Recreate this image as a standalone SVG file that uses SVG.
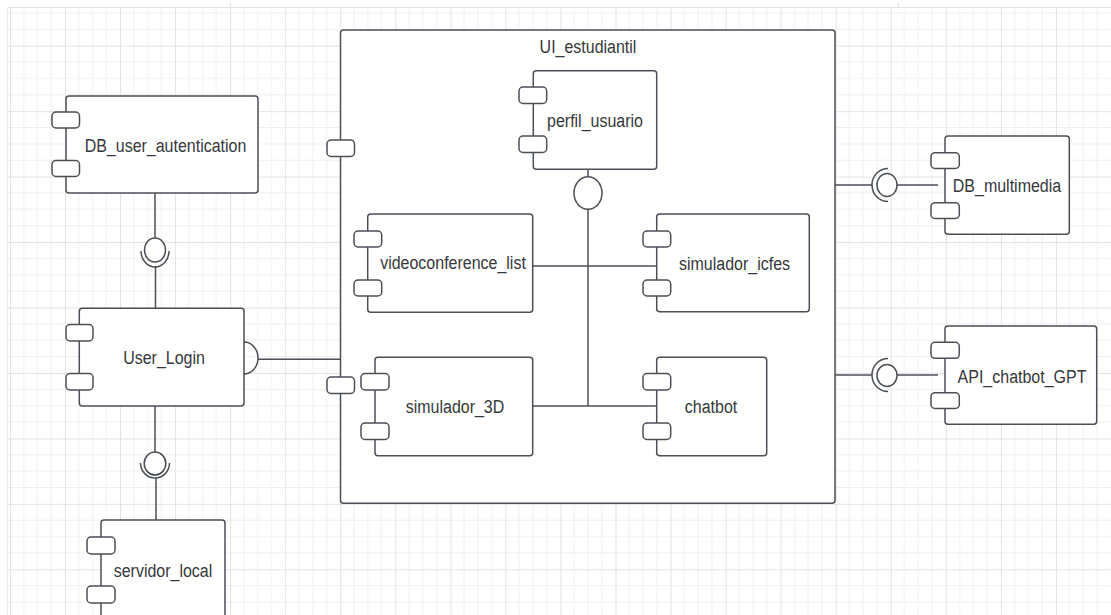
<svg xmlns="http://www.w3.org/2000/svg" width="1111" height="615" viewBox="0 0 1111 615">
<style>
.box{fill:#ffffff;stroke:#4b4f57;stroke-width:1.5}
.port{fill:#ffffff;stroke:#4b4f57;stroke-width:1.5}
.ln{fill:none;stroke:#4b4f57;stroke-width:1.5}
.ball{fill:#ffffff;stroke:#4b4f57;stroke-width:1.5}
.lbl{font-family:"Liberation Sans",Arial,sans-serif;font-size:16px;fill:#36383c;text-anchor:middle}
</style>
<defs>
<pattern id="grid" patternUnits="userSpaceOnUse" x="9.95" y="-19.75" width="55.05" height="65.45">
<g stroke="#efefef" stroke-width="1">
<line x1="13.76" y1="0" x2="13.76" y2="65.45"/>
<line x1="27.52" y1="0" x2="27.52" y2="65.45"/>
<line x1="41.29" y1="0" x2="41.29" y2="65.45"/>
<line x1="0" y1="16.36" x2="55.05" y2="16.36"/>
<line x1="0" y1="32.72" x2="55.05" y2="32.72"/>
<line x1="0" y1="49.09" x2="55.05" y2="49.09"/>
</g>
<g stroke="#e2e2e2" stroke-width="1">
<line x1="0.5" y1="0" x2="0.5" y2="65.45"/>
<line x1="0" y1="0.5" x2="55.05" y2="0.5"/>
</g>
</pattern>
</defs>
<rect x="0" y="0" width="1111" height="615" fill="#ffffff"/>
<rect x="7" y="7" width="1104" height="608" fill="url(#grid)"/>
<line x1="7" y1="7.5" x2="1111" y2="7.5" stroke="#e2e2e2" stroke-width="1"/>
<line x1="7.5" y1="7" x2="7.5" y2="615" stroke="#ececec" stroke-width="1"/>
<line x1="230.5" y1="3" x2="230.5" y2="7" stroke="#dcdcdc" stroke-width="1"/>
<line x1="898.5" y1="3" x2="898.5" y2="7" stroke="#dcdcdc" stroke-width="1"/>

<g id="UI_estudiantil">
<rect class="box" x="340.5" y="30" width="494.5" height="473.3" rx="3"/>
<rect class="port" x="327" y="140" width="27.5" height="16.5" rx="4"/>
<rect class="port" x="327" y="377" width="27.5" height="16.5" rx="4"/>
<text class="lbl" transform="matrix(1,0,0,1.1,588,53)">UI_estudiantil</text>
</g>

<g id="connectors">
<line class="ln" x1="155" y1="193" x2="155" y2="238"/>
<ellipse class="ball" cx="155" cy="250" rx="10.5" ry="12"/>
<path class="ln" d="M141,251 A14,16 0 0 0 169,251"/>
<line class="ln" x1="155.5" y1="266" x2="155.5" y2="308"/>
<line class="ln" x1="155" y1="406" x2="155" y2="452"/>
<ellipse class="ball" cx="155" cy="463.5" rx="10.8" ry="11.5"/>
<path class="ln" d="M140.5,463 A14.5,15 0 0 0 169.5,463"/>
<line class="ln" x1="156" y1="478" x2="156" y2="520"/>
<path class="ln" d="M244,342 A14,16 0 0 1 244,374"/>
<line class="ln" x1="258" y1="359.3" x2="340.5" y2="359.3"/>
<line class="ln" x1="588" y1="169.3" x2="588" y2="177"/>
<ellipse class="ball" cx="588" cy="193" rx="14" ry="16.3"/>
<line class="ln" x1="588" y1="209.3" x2="588" y2="406"/>
<line class="ln" x1="533" y1="266" x2="656.7" y2="266"/>
<line class="ln" x1="533" y1="406" x2="656.7" y2="406"/>
<line class="ln" x1="835" y1="185" x2="872" y2="185"/>
<path class="ln" d="M888,168.5 A16,16.5 0 0 0 888,201.5"/>
<ellipse class="ball" cx="887" cy="185" rx="10" ry="11.5"/>
<line class="ln" x1="897" y1="185" x2="938" y2="185"/>
<line class="ln" x1="835" y1="375" x2="872" y2="375"/>
<path class="ln" d="M888,358.5 A16,16.5 0 0 0 888,391.5"/>
<ellipse class="ball" cx="887" cy="375.5" rx="10" ry="11"/>
<line class="ln" x1="897" y1="375" x2="938" y2="375"/>
</g>

<g id="DB_user_autentication">
<rect class="box" x="66" y="96" width="192" height="97" rx="3"/>
<rect class="port" x="52" y="112" width="27.5" height="16" rx="4"/>
<rect class="port" x="52" y="160.5" width="27.5" height="16" rx="4"/>
<text class="lbl" transform="matrix(1,0,0,1.1,165.5,152)">DB_user_autentication</text>
</g>

<g id="User_Login">
<rect class="box" x="79.3" y="308.3" width="164.7" height="97.7" rx="3"/>
<rect class="port" x="66" y="324.5" width="27" height="16.5" rx="4"/>
<rect class="port" x="66" y="373.5" width="27" height="16.5" rx="4"/>
<text class="lbl" transform="matrix(1,0,0,1.1,164,364)">User_Login</text>
</g>

<g id="servidor_local">
<rect class="box" x="101" y="520" width="124" height="120" rx="3"/>
<rect class="port" x="87" y="537" width="28" height="17" rx="4"/>
<rect class="port" x="87" y="586" width="28" height="17" rx="4"/>
<text class="lbl" transform="matrix(1,0,0,1.1,163,577)">servidor_local</text>
</g>

<g id="perfil_usuario">
<rect class="box" x="533.3" y="70.7" width="123.4" height="98.6" rx="3"/>
<rect class="port" x="519" y="87" width="27.7" height="16.5" rx="4"/>
<rect class="port" x="519" y="136" width="27.7" height="16.5" rx="4"/>
<text class="lbl" transform="matrix(1,0,0,1.1,595,127)">perfil_usuario</text>
</g>

<g id="videoconference_list">
<rect class="box" x="367.7" y="214" width="165" height="98.3" rx="3"/>
<rect class="port" x="354" y="231" width="27.7" height="16" rx="4"/>
<rect class="port" x="354" y="280" width="27.7" height="16" rx="4"/>
<text class="lbl" transform="matrix(1,0,0,1.1,453,269)">videoconference_list</text>
</g>

<g id="simulador_icfes">
<rect class="box" x="656.7" y="214" width="152.6" height="97.7" rx="3"/>
<rect class="port" x="643" y="231" width="27.7" height="16" rx="4"/>
<rect class="port" x="643" y="280" width="27.7" height="16" rx="4"/>
<text class="lbl" transform="matrix(1,0,0,1.1,734.5,270)">simulador_icfes</text>
</g>

<g id="simulador_3D">
<rect class="box" x="375" y="357.3" width="157.7" height="98.4" rx="3"/>
<rect class="port" x="361" y="373.5" width="28" height="16.5" rx="4"/>
<rect class="port" x="361" y="423" width="28" height="16.5" rx="4"/>
<text class="lbl" transform="matrix(1,0,0,1.1,455,413)">simulador_3D</text>
</g>

<g id="chatbot">
<rect class="box" x="656.7" y="357.3" width="110" height="98.4" rx="3"/>
<rect class="port" x="643" y="373.5" width="27.7" height="16.5" rx="4"/>
<rect class="port" x="643" y="423" width="27.7" height="16.5" rx="4"/>
<text class="lbl" transform="matrix(1,0,0,1.1,711,413)">chatbot</text>
</g>

<g id="DB_multimedia">
<rect class="box" x="945" y="136" width="124.3" height="98.3" rx="3"/>
<rect class="port" x="931" y="152.7" width="28.3" height="15.7" rx="4"/>
<rect class="port" x="931" y="202.7" width="28.3" height="15.7" rx="4"/>
<text class="lbl" transform="matrix(1,0,0,1.1,1007,192)">DB_multimedia</text>
</g>

<g id="API_chatbot_GPT">
<rect class="box" x="945" y="326" width="151.7" height="98.3" rx="3"/>
<rect class="port" x="931" y="342.3" width="28.3" height="16" rx="4"/>
<rect class="port" x="931" y="392.7" width="28.3" height="15.7" rx="4"/>
<text class="lbl" transform="matrix(1,0,0,1.1,1022,383)">API_chatbot_GPT</text>
</g>
</svg>
